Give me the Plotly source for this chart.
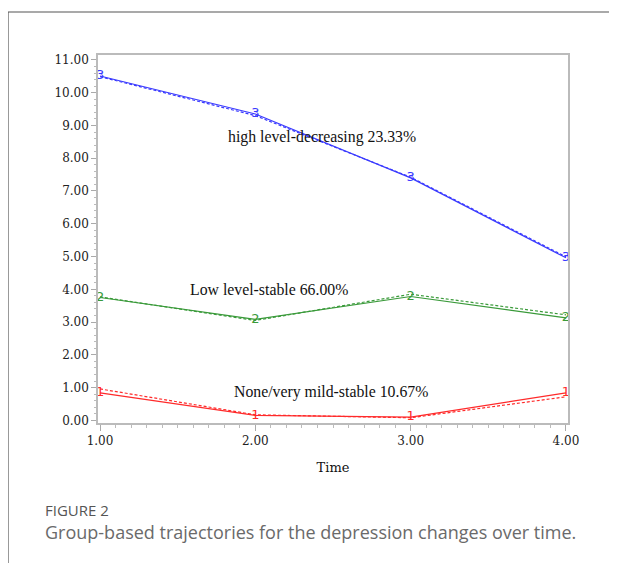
import plotly.graph_objects as go

time = [1.0, 2.0, 3.0, 4.0]
high_obs = [10.51, 9.35, 7.40, 4.96]
high_pred = [10.49, 9.30, 7.42, 4.99]
low_obs = [3.75, 3.08, 3.78, 3.13]
low_pred = [3.77, 3.05, 3.85, 3.22]
none_obs = [0.84, 0.15, 0.10, 0.84]
none_pred = [0.96, 0.17, 0.08, 0.72]
y_ticks = [0, 1, 2, 3, 4, 5, 6, 7, 8, 9, 10, 11]
x_ticks = [1, 2, 3, 4]

groups = [
    ("3", high_obs, high_pred, "#3a3aff"),
    ("2", low_obs, low_pred, "#3a9a3a"),
    ("1", none_obs, none_pred, "#ff2a2a"),
]

OFF = 8  # page body margin
W, H = 617 - OFF, 563 - OFF
L, R, T, B = 90, 49, 47, 140
pw, ph = W - L - R, H - T - B

def px(x):
    return (x - OFF - L) / pw

def py(y):
    return 1 - (y - OFF - T) / ph

fig = go.Figure()
for lab, obs, pred, col in groups:
    fig.add_trace(go.Scatter(x=time, y=pred, mode="lines",
                             line=dict(color=col, width=1.2, dash="3px,2px"),
                             showlegend=False, hoverinfo="skip"))
    fig.add_trace(go.Scatter(x=time, y=obs, mode="lines+text",
                             text=[lab] * len(time), textposition="middle center",
                             textfont=dict(family="DejaVu Sans", size=13, color=col),
                             line=dict(color=col, width=1.2),
                             showlegend=False))

labels = [
    (2.43, 8.64, "high level-decreasing 23.33%"),
    (2.09, 3.98, "Low level-stable 66.00%"),
    (2.49, 0.86, "None/very mild-stable 10.67%"),
]
for x, y, t in labels:
    fig.add_annotation(x=x, y=y, text=t, showarrow=False,
                       font=dict(family="Liberation Serif", size=15.8, color="#111"))

# outer frame lines (top and left)
fig.add_shape(type="line", xref="paper", yref="paper",
              x0=px(8), x1=px(640), y0=py(12), y1=py(12),
              line=dict(color="#555", width=1.2))
fig.add_shape(type="line", xref="paper", yref="paper",
              x0=px(8), x1=px(8), y0=py(12), y1=py(600),
              line=dict(color="#555", width=1.2))

fig.add_annotation(xref="paper", yref="paper", x=px(43), y=py(510),
                   xanchor="left", yanchor="middle", showarrow=False,
                   text="FIGURE 2",
                   font=dict(family="Open Sans", size=15, color="#555"))
fig.add_annotation(xref="paper", yref="paper", x=px(43), y=py(532),
                   xanchor="left", yanchor="middle", showarrow=False,
                   text="Group-based trajectories for the depression changes over time.",
                   font=dict(family="Open Sans", size=18, color="#6a6a6a"))

axis_font = dict(family="DejaVu Serif", size=12, color="#222")
fig.update_xaxes(range=[0.987, 4.013], tickvals=x_ticks,
                 ticktext=["%.2f" % v for v in x_ticks],
                 ticks="outside", ticklen=6, tickcolor="#aaa",
                 minor=dict(dtick=0.1, ticks="outside", ticklen=3, tickcolor="#bbb"),
                 showline=True, linecolor="#bbb", linewidth=1.5, mirror=True,
                 showgrid=False, zeroline=False, tickfont=axis_font,
                 title=dict(text="Time", font=dict(family="DejaVu Serif", size=13, color="#111"),
                            standoff=16))
fig.update_yaxes(range=[-0.08, 11.15], tickvals=y_ticks,
                 ticktext=["%.2f" % v for v in y_ticks],
                 ticks="outside", ticklen=5, tickcolor="#aaa",
                 minor=dict(dtick=0.2, ticks="outside", ticklen=2, tickcolor="#bbb"),
                 showline=True, linecolor="#bbb", linewidth=1.5, mirror=True,
                 showgrid=False, zeroline=False, tickfont=axis_font)

fig.update_layout(width=W, height=H, margin=dict(l=L, r=R, t=T, b=B),
                  font=dict(family="DejaVu Serif"),
                  plot_bgcolor="white", paper_bgcolor="white")
fig.write_html("out.html")
